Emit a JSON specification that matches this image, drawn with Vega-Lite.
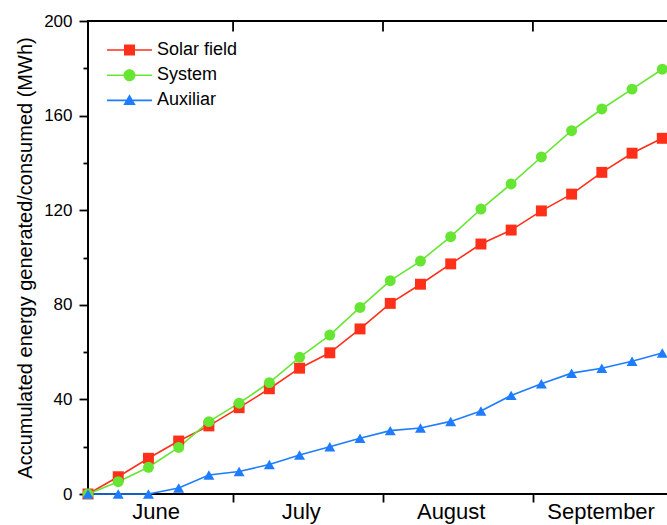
{
  "$schema": "https://vega.github.io/schema/vega-lite/v6.json",
  "width": 590,
  "height": 473,
  "autosize": {"type": "none"},
  "padding": {"left": 88, "top": 21, "right": -11, "bottom": 31},
  "background": "white",
  "config": {
    "view": {"stroke": "#000000", "strokeWidth": 2},
    "font": "Liberation Sans",
    "axis": {
      "domain": false,
      "tickColor": "#000000",
      "tickWidth": 1.8,
      "labelColor": "#000000",
      "titleColor": "#000000",
      "labelFont": "Liberation Sans",
      "titleFont": "Liberation Sans",
      "titleFontWeight": "normal",
      "grid": false,
      "labelOverlap": false,
      "labelFlush": false,
      "labelBound": false
    }
  },
  "datasets": {
    "d": [
      {"series": "Solar field", "day": 0, "value": 0},
      {"series": "Solar field", "day": 6.25, "value": 7.3},
      {"series": "Solar field", "day": 12.5, "value": 15.1},
      {"series": "Solar field", "day": 18.75, "value": 22.4},
      {"series": "Solar field", "day": 25, "value": 28.8},
      {"series": "Solar field", "day": 31.25, "value": 36.5},
      {"series": "Solar field", "day": 37.5, "value": 44.5},
      {"series": "Solar field", "day": 43.75, "value": 53.2},
      {"series": "Solar field", "day": 50, "value": 59.7},
      {"series": "Solar field", "day": 56.25, "value": 69.8},
      {"series": "Solar field", "day": 62.5, "value": 80.6},
      {"series": "Solar field", "day": 68.75, "value": 88.7},
      {"series": "Solar field", "day": 75, "value": 97.3},
      {"series": "Solar field", "day": 81.25, "value": 105.7},
      {"series": "Solar field", "day": 87.5, "value": 111.6},
      {"series": "Solar field", "day": 93.75, "value": 119.7},
      {"series": "Solar field", "day": 100, "value": 126.8},
      {"series": "Solar field", "day": 106.25, "value": 136.0},
      {"series": "Solar field", "day": 112.5, "value": 144.1},
      {"series": "Solar field", "day": 118.75, "value": 150.4},
      {"series": "System", "day": 0, "value": 0},
      {"series": "System", "day": 6.25, "value": 5.2},
      {"series": "System", "day": 12.5, "value": 11.3},
      {"series": "System", "day": 18.75, "value": 19.7},
      {"series": "System", "day": 25, "value": 30.6},
      {"series": "System", "day": 31.25, "value": 38.4},
      {"series": "System", "day": 37.5, "value": 47.1},
      {"series": "System", "day": 43.75, "value": 57.8},
      {"series": "System", "day": 50, "value": 67.2},
      {"series": "System", "day": 56.25, "value": 78.9},
      {"series": "System", "day": 62.5, "value": 90.2},
      {"series": "System", "day": 68.75, "value": 98.5},
      {"series": "System", "day": 75, "value": 108.8},
      {"series": "System", "day": 81.25, "value": 120.5},
      {"series": "System", "day": 87.5, "value": 131.1},
      {"series": "System", "day": 93.75, "value": 142.5},
      {"series": "System", "day": 100, "value": 153.6},
      {"series": "System", "day": 106.25, "value": 162.8},
      {"series": "System", "day": 112.5, "value": 171.2},
      {"series": "System", "day": 118.75, "value": 179.6},
      {"series": "Auxiliar", "day": 0, "value": 0},
      {"series": "Auxiliar", "day": 6.25, "value": 0},
      {"series": "Auxiliar", "day": 12.5, "value": 0},
      {"series": "Auxiliar", "day": 18.75, "value": 2.5},
      {"series": "Auxiliar", "day": 25, "value": 8.0},
      {"series": "Auxiliar", "day": 31.25, "value": 9.5},
      {"series": "Auxiliar", "day": 37.5, "value": 12.5},
      {"series": "Auxiliar", "day": 43.75, "value": 16.5},
      {"series": "Auxiliar", "day": 50, "value": 20.0},
      {"series": "Auxiliar", "day": 56.25, "value": 23.6},
      {"series": "Auxiliar", "day": 62.5, "value": 26.8},
      {"series": "Auxiliar", "day": 68.75, "value": 27.9},
      {"series": "Auxiliar", "day": 75, "value": 30.7},
      {"series": "Auxiliar", "day": 81.25, "value": 35.1},
      {"series": "Auxiliar", "day": 87.5, "value": 41.7},
      {"series": "Auxiliar", "day": 93.75, "value": 46.6},
      {"series": "Auxiliar", "day": 100, "value": 51.1},
      {"series": "Auxiliar", "day": 106.25, "value": 53.2},
      {"series": "Auxiliar", "day": 112.5, "value": 56.1},
      {"series": "Auxiliar", "day": 118.75, "value": 59.6}
    ],
    "months": [
      {"boundary": 30},
      {"boundary": 61},
      {"boundary": 92}
    ]
  },
  "data": {"name": "d"},
  "layer": [
    {
      "mark": {"type": "line", "strokeWidth": 1.6},
      "encoding": {
        "x": {
          "field": "day", "type": "quantitative",
          "scale": {"domain": [0, 122], "nice": false, "zero": false},
          "axis": {
            "title": null,
            "values": [14, 30, 44, 61, 75, 92, 106],
            "labelExpr": "datum.value == 14 ? 'June' : datum.value == 44 ? 'July' : datum.value == 75 ? 'August' : datum.value == 106 ? 'September' : ''",
            "tickOpacity": {"condition": {"test": "datum.value == 30 || datum.value == 61 || datum.value == 92", "value": 1}, "value": 0},
            "tickSize": 8,
            "labelFontSize": 22,
            "labelPadding": -1
          }
        },
        "y": {
          "field": "value", "type": "quantitative",
          "scale": {"domain": [0, 200], "nice": false},
          "axis": {
            "title": "Accumulated energy generated/consumed (MWh)",
            "titleFontSize": 20,
            "titlePadding": 8,
            "values": [0, 20, 40, 60, 80, 100, 120, 140, 160, 180, 200],
            "labelExpr": "datum.value % 40 === 0 ? datum.label : ''",
            "tickSize": {"condition": {"test": "datum.value % 40 === 0", "value": 9}, "value": 5},
            "labelFontSize": 17,
            "labelPadding": 7
          }
        },
        "color": {
          "field": "series", "type": "nominal",
          "scale": {"domain": ["Solar field", "System", "Auxiliar"], "range": ["#FF3019", "#66E632", "#1E7DFF"]},
          "legend": null
        }
      }
    },
    {
      "mark": {"type": "point", "filled": true, "opacity": 1, "size": 120},
      "encoding": {
        "x": {
          "field": "day", "type": "quantitative",
          "scale": {"domain": [0, 122], "nice": false, "zero": false},
          "axis": null
        },
        "y": {
          "field": "value", "type": "quantitative",
          "scale": {"domain": [0, 200], "nice": false},
          "axis": null
        },
        "color": {
          "field": "series", "type": "nominal",
          "scale": {"domain": ["Solar field", "System", "Auxiliar"], "range": ["#FF3019", "#66E632", "#1E7DFF"]},
          "legend": null
        },
        "shape": {
          "field": "series", "type": "nominal",
          "scale": {"domain": ["Solar field", "System", "Auxiliar"], "range": ["square", "circle", "triangle-up"]},
          "legend": null
        }
      }
    },
    {
      "data": {"name": "months"},
      "mark": {"type": "rule", "color": "#000000", "strokeWidth": 1.8},
      "encoding": {
        "x": {
          "field": "boundary", "type": "quantitative",
          "scale": {"domain": [0, 122], "nice": false, "zero": false},
          "axis": null
        },
        "y": {"datum": 200, "type": "quantitative", "scale": {"domain": [0, 200], "nice": false}, "axis": null},
        "y2": {"datum": 195.6}
      }
    },
    {
      "mark": {"type": "point", "filled": true, "opacity": 0},
      "encoding": {
        "x": {"field": "day", "type": "quantitative", "scale": {"domain": [0, 122], "nice": false, "zero": false}, "axis": null},
        "y": {"field": "value", "type": "quantitative", "scale": {"domain": [0, 200], "nice": false}, "axis": null},
        "color": {
          "field": "series", "type": "nominal",
          "scale": {"domain": ["Solar field", "System", "Auxiliar"], "range": ["#FF3019", "#66E632", "#1E7DFF"]},
          "legend": {
            "title": null, "orient": "none", "legendX": 31.5, "legendY": 19,
            "symbolSize": 400, "symbolOpacity": 1, "symbolStrokeWidth": 0,
            "labelFontSize": 18, "labelFont": "Liberation Sans", "labelColor": "#000000",
            "labelOffset": 17.5, "rowPadding": 6.2, "padding": 0
          }
        },
        "shape": {
          "field": "series", "type": "nominal",
          "scale": {
            "domain": ["Solar field", "System", "Auxiliar"],
            "range": [
              "M-2.25,-0.08H2.25V0.08H-2.25ZM-0.55,-0.55H0.55V0.55H-0.55Z",
              "M-2.25,-0.08H2.25V0.08H-2.25ZM-0.6,0A0.6,0.6,0,1,1,0.6,0A0.6,0.6,0,1,1,-0.6,0Z",
              "M-2.25,-0.08H2.25V0.08H-2.25ZM0,-0.62L0.62,0.45L-0.62,0.45Z"
            ]
          },
          "legend": {
            "title": null, "orient": "none", "legendX": 31.5, "legendY": 19,
            "symbolSize": 400, "symbolOpacity": 1, "symbolStrokeWidth": 0,
            "labelFontSize": 18, "labelFont": "Liberation Sans", "labelColor": "#000000",
            "labelOffset": 17.5, "rowPadding": 6.2, "padding": 0
          }
        }
      }
    }
  ],
  "resolve": {
    "scale": {"x": "independent", "y": "independent", "color": "independent", "shape": "independent"},
    "axis": {"x": "independent", "y": "independent"}
  }
}
